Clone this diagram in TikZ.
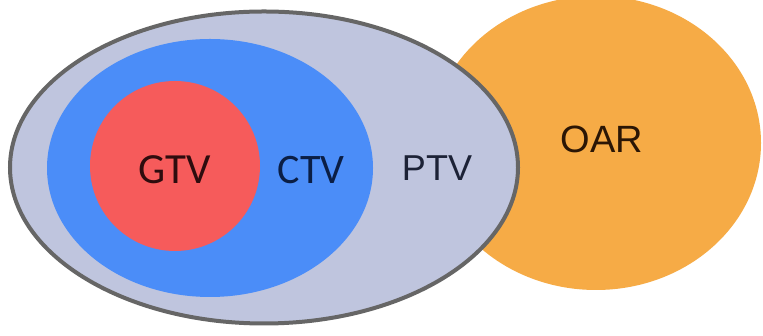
\documentclass[tikz,border=0pt]{standalone}
\usepackage{fontspec}
\setmainfont{Carlito}
\newfontfamily\arialfont{Liberation Sans}
\usetikzlibrary{shapes.geometric}
\definecolor{ptvfill}{HTML}{BFC5DE}
\definecolor{ptvline}{HTML}{666666}
\definecolor{ctvfill}{HTML}{4B8DF8}
\definecolor{gtvfill}{HTML}{F65B5B}
\definecolor{oarfill}{HTML}{F6AB46}
\definecolor{gtvtext}{HTML}{2E0C0E}
\definecolor{ctvtext}{HTML}{0B1E45}
\definecolor{ptvtext}{HTML}{1C2236}
\definecolor{oartext}{HTML}{2B1605}
\tikzset{
  region/.style={ellipse, inner sep=0pt, draw=none},
  lbl/.style={inner sep=0pt, anchor=center}
}
\begin{document}
\begin{tikzpicture}[x=1pt,y=1pt]
\useasboundingbox[fill=white] (0,0) rectangle (763,336);
\node[region, fill=oarfill, minimum width=330pt, minimum height=294pt] (oar) at (596,193) {};
\node[region, fill=ptvfill, draw=ptvline, line width=4pt, minimum width=508pt, minimum height=312pt] (ptv) at (264,168.5) {};
\node[region, fill=ctvfill, minimum width=326pt, minimum height=258pt] (ctv) at (210,168) {};
\node[region, fill=gtvfill, minimum width=170pt, minimum height=170pt] (gtv) at (175,170) {};
\node[lbl, text=gtvtext, font=\fontsize{43}{46}\selectfont] (gtvl) at (175,166) {GTV};
\node[lbl, text=ctvtext, font=\fontsize{42}{46}\selectfont] (ctvl) at (311,166) {CTV};
\node[lbl, text=ptvtext, font=\arialfont\fontsize{36}{40}\selectfont] (ptvl) at (437,168) {PTV};
\node[lbl, text=oartext, font=\arialfont\fontsize{38}{42}\selectfont] (oarl) at (602,197) {OAR};
\end{tikzpicture}
\end{document}
